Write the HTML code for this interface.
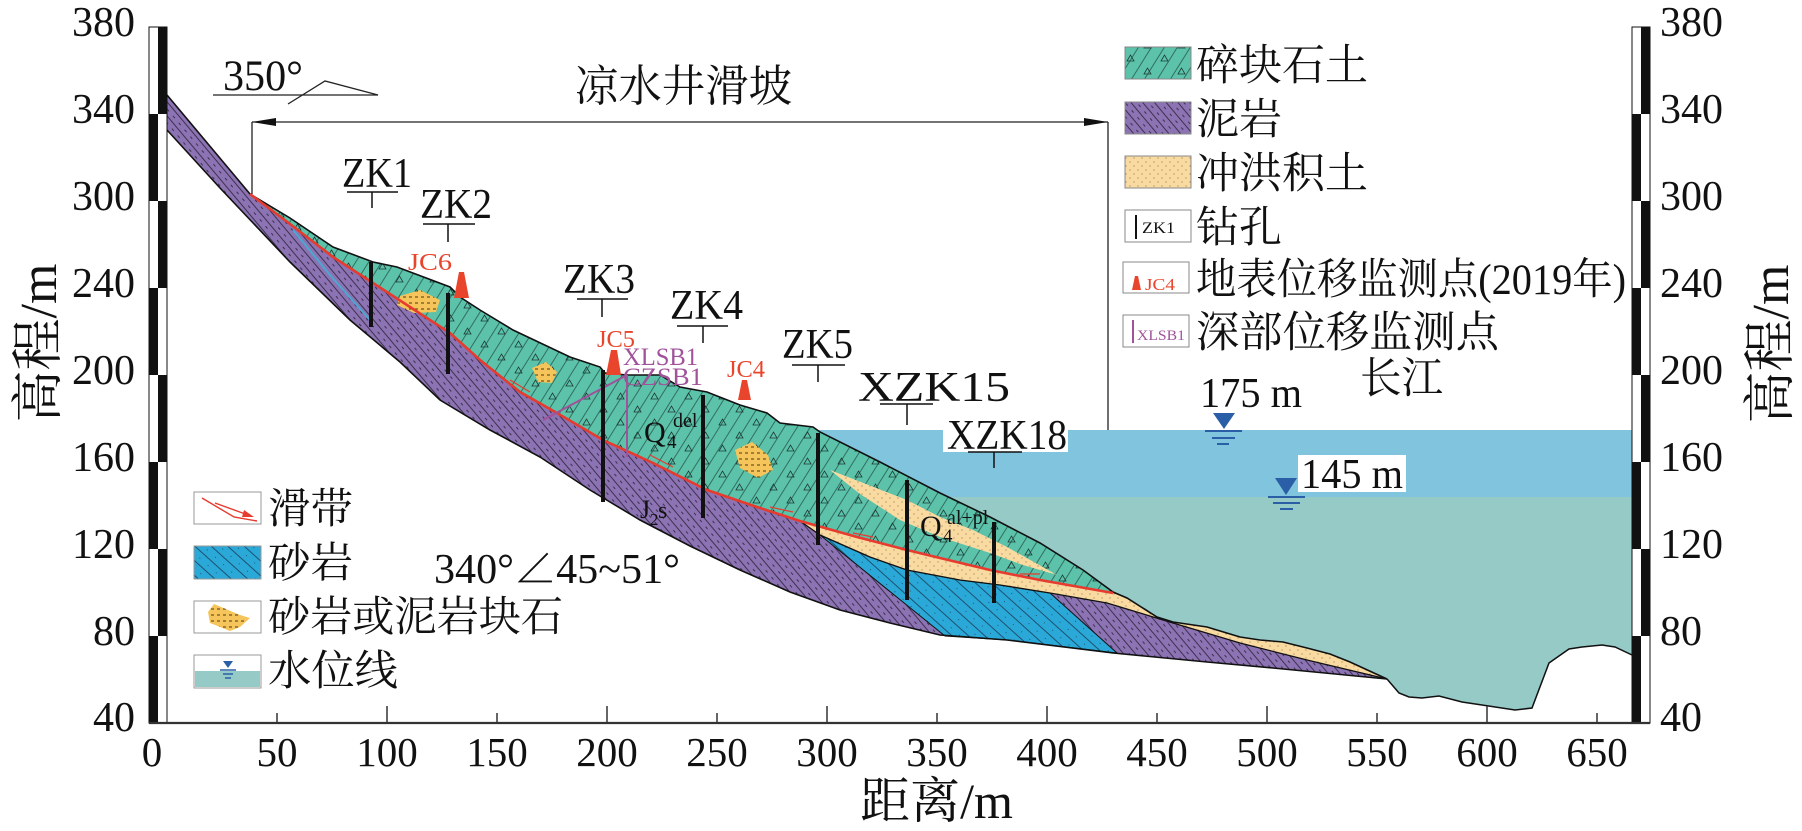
<!DOCTYPE html>
<html><head><meta charset="utf-8"><style>
html,body{margin:0;padding:0;background:#fff;}
svg{display:block;}
.n{font-family:"Liberation Serif","Noto Serif CJK SC",serif;fill:#111;}
.c{font-family:"Liberation Serif","Noto Serif CJK SC",serif;fill:#111;}
</style></head><body>
<svg width="1802" height="831" viewBox="0 0 1802 831" xmlns="http://www.w3.org/2000/svg">
<defs>
<pattern id="pp" width="9" height="9" patternUnits="userSpaceOnUse" patternTransform="rotate(50)">
<rect width="9" height="9" fill="#8c73b3"/>
<line x1="0" y1="0.5" x2="9" y2="0.5" stroke="#2a2035" stroke-width="0.8"/>
<line x1="2" y1="5" x2="5" y2="5" stroke="#2a2035" stroke-width="0.8"/>
</pattern>
<pattern id="pg" width="11" height="11" patternUnits="userSpaceOnUse" patternTransform="rotate(-58)">
<rect width="11" height="11" fill="#5cc2aa"/>
<line x1="0" y1="0.5" x2="11" y2="0.5" stroke="#1f4a40" stroke-width="0.7"/>
</pattern>
<pattern id="tri" width="34" height="26" patternUnits="userSpaceOnUse">
<path d="M5,9 l7,0 l-3.5,-6z M22,22 l7,0 l-3.5,-6z" fill="none" stroke="#1d3a33" stroke-width="0.8"/>
</pattern>
<pattern id="pb" width="11" height="11" patternUnits="userSpaceOnUse" patternTransform="rotate(42)">
<rect width="11" height="11" fill="#2aa8d8"/>
<line x1="0" y1="0.5" x2="11" y2="0.5" stroke="#1b3b55" stroke-width="0.8"/>
<circle cx="5" cy="6" r="0.5" fill="#1b3b55"/>
</pattern>
<pattern id="py" width="8" height="8" patternUnits="userSpaceOnUse">
<rect width="8" height="8" fill="#f9dba2"/>
<circle cx="2" cy="2" r="0.6" fill="#9b7b4a"/>
<circle cx="6" cy="6" r="0.6" fill="#9b7b4a"/>
</pattern>
<pattern id="pk" width="6" height="6" patternUnits="userSpaceOnUse">
<rect width="6" height="6" fill="#f5c45a"/>
<line x1="1" y1="3" x2="4" y2="3" stroke="#3a2a10" stroke-width="0.9"/>
</pattern>
</defs>

<!-- water -->
<polygon fill="#80c5dd" points="817,430 1632,430 1632,655 1615,647 1602,645 1582,647 1569,649 1549,663 1532,708 1515,710 1482,705 1462,702 1439,696 1422,698 1409,697 1399,693 1387,679 1350,662 1330,654 1307,648 1283,642 1260,640 1240,637 1207,627 1173,622 1157,617 1127,598 1113,592 1083,570 1040,543 990,517 940,493 880,462 820,432"/>
<polygon fill="#95cac7" points="948,497 1632,497 1632,655 1615,647 1602,645 1582,647 1569,649 1549,663 1532,708 1515,710 1482,705 1462,702 1439,696 1422,698 1409,697 1399,693 1387,679 1350,662 1330,654 1307,648 1283,642 1260,640 1240,637 1207,627 1173,622 1157,617 1127,598 1113,592 1083,570 1040,543 990,517"/>
<polyline fill="none" stroke="#111" stroke-width="1.5" points="1387,679 1399,693 1409,697 1422,698 1439,696 1462,702 1482,705 1515,710 1532,708 1549,663 1569,649 1582,647 1602,645 1615,647 1632,655"/>

<!-- purple mudstone -->
<polygon fill="url(#pp)" points="167,95 250,194 290,224 333,257 390,294 450,333 480,360 520,392 557,413 603,440 653,463 707,490 757,507 800,521 857,537 907,550 940,558 990,570 1040,580 1113,593 1127,598 1157,617 1173,622 1207,627 1240,637 1260,640 1283,642 1307,648 1330,654 1350,662 1387,679 1273,668 1207,662 1113,653 1007,640 940,635 890,623 840,610 790,592 740,570 690,546 640,520 590,490 540,457 490,430 440,400 400,362 350,320 290,262 220,188 167,130"/>
<polyline fill="none" stroke="#4aa8d0" stroke-width="2" points="293,230 330,275 370,320"/>
<!-- blue sandstone -->
<polygon fill="url(#pb)" stroke="#111" stroke-width="1" points="820,535 870,557 907,570 960,580 1000,585 1050,593 1117,653 1007,640 945,636"/>
<!-- yellow alluvium -->
<polygon fill="url(#py)" points="800,521 857,537 907,550 940,558 990,570 1040,580 1113,593 1127,598 1157,617 1173,622 1207,627 1240,637 1260,640 1283,642 1307,648 1330,654 1350,662 1387,679 1307,660 1240,643 1173,623 1107,603 1050,593 1000,585 960,580 907,570 870,557 820,535"/>
<polyline fill="none" stroke="#111" stroke-width="1.3" points="800,521 820,535 870,557 907,570 960,580 1000,585 1050,593 1107,603 1173,623 1240,643 1307,660 1387,679"/>
<!-- green debris -->
<polygon fill="url(#pg)" points="250,194 290,218 333,247 373,262 397,267 450,287 460,297 480,310 513,330 570,357 600,367 605,373 627,375 660,375 680,387 707,392 740,405 767,413 780,423 813,427 820,432 880,462 940,493 990,517 1040,543 1083,570 1113,592 1040,580 990,570 940,558 907,550 857,537 800,521 757,507 707,490 653,463 603,440 557,413 520,392 480,360 450,333 390,294 333,257 290,224"/>
<polygon fill="url(#tri)" points="250,194 290,218 333,247 373,262 397,267 450,287 460,297 480,310 513,330 570,357 600,367 605,373 627,375 660,375 680,387 707,392 740,405 767,413 780,423 813,427 820,432 880,462 940,493 990,517 1040,543 1083,570 1113,592 1040,580 990,570 940,558 907,550 857,537 800,521 757,507 707,490 653,463 603,440 557,413 520,392 480,360 450,333 390,294 333,257 290,224"/>
<!-- yellow lens -->
<polygon fill="url(#py)" points="830,470 907,500 940,517 973,530 1007,547 1057,575 1023,565 990,553 940,537 900,520 860,494"/>
<!-- rock blocks -->
<polygon fill="url(#pk)" points="400,296 420,290 440,300 436,312 414,313 397,305"/>
<polygon fill="url(#pk)" points="532,368 546,362 557,372 552,383 538,382"/>
<polygon fill="url(#pk)" points="735,450 752,442 768,455 773,470 758,478 740,468"/>

<!-- outlines -->
<polyline fill="none" stroke="#111" stroke-width="1.6" points="167,95 250,194 290,218 333,247 373,262 397,267 450,287 460,297 480,310 513,330 570,357 600,367 605,373 627,375 660,375 680,387 707,392 740,405 767,413 780,423 813,427 820,432 880,462 940,493 990,517 1040,543 1083,570 1113,592 1127,598 1157,617 1173,622 1207,627 1240,637 1260,640 1283,642 1307,648 1330,654 1350,662 1387,679"/>
<polyline fill="none" stroke="#111" stroke-width="1.6" points="167,130 220,188 290,262 350,320 400,362 440,400 490,430 540,457 590,490 640,520 690,546 740,570 790,592 840,610 890,623 940,635 1007,640 1113,653 1207,662 1273,668 1387,679"/>
<polyline fill="none" stroke="#e63b2e" stroke-width="2.6" points="250,194 290,224 333,257 390,294 450,333 480,360 520,392 557,413 603,440 653,463 707,490 757,507 800,521 857,537 907,550 940,558 990,570 1040,580 1113,593"/>
<g stroke="#e63b2e" stroke-width="1.2" fill="none">
<line x1="510" y1="380" x2="530" y2="392"/><line x1="650" y1="455" x2="673" y2="467"/>
<line x1="770" y1="507" x2="793" y2="512"/><line x1="853" y1="533" x2="873" y2="537"/>
<line x1="1020" y1="574" x2="1040" y2="574"/>
</g>

<!-- purple inclinometer lines -->
<g stroke="#a0529a" stroke-width="2" fill="none">
<line x1="627" y1="375" x2="543" y2="420"/>
<line x1="627" y1="375" x2="627" y2="457"/>
</g>

<!-- boreholes -->
<g stroke="#111" stroke-width="4">
<line x1="371" y1="262" x2="371" y2="327"/>
<line x1="448" y1="293" x2="448" y2="374"/>
<line x1="603" y1="370" x2="603" y2="502"/>
<line x1="703" y1="395" x2="703" y2="518"/>
<line x1="818" y1="433" x2="818" y2="545"/>
<line x1="907" y1="480" x2="907" y2="600"/>
<line x1="994" y1="522" x2="994" y2="603"/>
</g>

<!-- red markers -->
<g fill="#e8452c">
<polygon points="459,272 464,272 469,298 454,298"/>
<polygon points="611,350 617,350 621,375 606,375"/>
<polygon points="742,380 747,380 751,400 738,400"/>
</g>
<g class="n" style="fill:#e8452c" font-size="24">
<text x="408" y="270" textLength="44" lengthAdjust="spacingAndGlyphs">JC6</text>
<text x="597" y="347" textLength="38" lengthAdjust="spacingAndGlyphs">JC5</text>
<text x="727" y="377" textLength="38" lengthAdjust="spacingAndGlyphs">JC4</text>
</g>
<g class="n" style="fill:#a0529a" font-size="25">
<text x="623" y="365" textLength="75" lengthAdjust="spacingAndGlyphs">XLSB1</text>
<text x="623" y="385" textLength="80" lengthAdjust="spacingAndGlyphs">CZSB1</text>
</g>

<!-- white label boxes -->
<rect x="943" y="430" width="125" height="22" fill="#fff"/>
<rect x="1298" y="455" width="108" height="37" fill="#fff"/>

<!-- borehole labels -->
<g class="n" font-size="42">
<text x="342" y="187" textLength="70" lengthAdjust="spacingAndGlyphs">ZK1</text>
<text x="420" y="218" textLength="72" lengthAdjust="spacingAndGlyphs">ZK2</text>
<text x="563" y="293" textLength="72" lengthAdjust="spacingAndGlyphs">ZK3</text>
<text x="670" y="319" textLength="73" lengthAdjust="spacingAndGlyphs">ZK4</text>
<text x="782" y="358" textLength="71" lengthAdjust="spacingAndGlyphs">ZK5</text>
<text x="858" y="401" textLength="152" lengthAdjust="spacingAndGlyphs">XZK15</text>
<text x="947" y="449" textLength="120" lengthAdjust="spacingAndGlyphs">XZK18</text>
</g>
<g stroke="#111" stroke-width="1.5">
<line x1="347" y1="192" x2="398" y2="192"/><line x1="372" y1="192" x2="372" y2="208"/>
<line x1="423" y1="224" x2="475" y2="224"/><line x1="448" y1="224" x2="448" y2="242"/>
<line x1="577" y1="299" x2="628" y2="299"/><line x1="602" y1="299" x2="602" y2="317"/>
<line x1="677" y1="326" x2="728" y2="326"/><line x1="703" y1="326" x2="703" y2="343"/>
<line x1="792" y1="365" x2="845" y2="365"/><line x1="818" y1="365" x2="818" y2="382"/>
<line x1="880" y1="404" x2="933" y2="404"/><line x1="907" y1="404" x2="907" y2="425"/>
<line x1="968" y1="452" x2="1022" y2="452"/><line x1="994" y1="452" x2="994" y2="468"/>
</g>

<!-- geology labels -->
<g class="n">
<text x="644" y="442" font-size="30">Q</text><text x="667" y="448" font-size="19">4</text><text x="673" y="427" font-size="20">del</text>
<text x="640" y="518" font-size="26">J</text><text x="650" y="525" font-size="17">2</text><text x="658" y="518" font-size="24">s</text>
<text x="920" y="536" font-size="30">Q</text><text x="943" y="542" font-size="19">4</text><text x="947" y="524" font-size="20">al+pl</text>
<text x="434" y="583" font-size="42" textLength="246" lengthAdjust="spacingAndGlyphs">340°∠45~51°</text>
</g>

<!-- top bracket & direction -->
<text class="n" x="223" y="90" font-size="43" textLength="80" lengthAdjust="spacingAndGlyphs">350°</text>
<g stroke="#222" stroke-width="1.3" fill="none">
<line x1="213" y1="95" x2="378" y2="95"/>
<polyline points="288,104 325,81 378,95"/>
<line x1="252" y1="122" x2="1108" y2="122"/>
<line x1="252" y1="122" x2="252" y2="194"/>
<line x1="1108" y1="122" x2="1108" y2="430"/>
</g>
<polygon fill="#111" points="252,122 276,118 276,126"/>
<polygon fill="#111" points="1108,122 1084,118 1084,126"/>
<text class="c" x="575" y="101" font-size="44" textLength="217" lengthAdjust="spacingAndGlyphs">凉水井滑坡</text>

<!-- water symbols -->
<g fill="#2a5fa8" stroke="#2a5fa8">
<polygon stroke="none" points="1213,413 1235,413 1224,429"/>
<line x1="1205" y1="431" x2="1242" y2="431" stroke-width="2"/>
<line x1="1212" y1="438" x2="1235" y2="438" stroke-width="2"/>
<line x1="1217" y1="444" x2="1229" y2="444" stroke-width="2"/>
<polygon stroke="none" points="1275,478 1297,478 1286,495"/>
<line x1="1268" y1="497" x2="1305" y2="497" stroke-width="2"/>
<line x1="1273" y1="503" x2="1300" y2="503" stroke-width="2"/>
<line x1="1280" y1="509" x2="1293" y2="509" stroke-width="2"/>
</g>
<text class="n" x="1200" y="407" font-size="42" textLength="102" lengthAdjust="spacingAndGlyphs">175 m</text>
<text class="n" x="1301" y="488" font-size="42" textLength="102" lengthAdjust="spacingAndGlyphs">145 m</text>
<text class="c" x="1360" y="393" font-size="43" textLength="83" lengthAdjust="spacingAndGlyphs">长江</text>

<!-- right legend -->
<g stroke="#888" stroke-width="1">
<rect x="1125" y="47" width="66" height="32" fill="url(#pg)"/>
<rect x="1125" y="47" width="66" height="32" fill="url(#tri)"/>
<rect x="1125" y="102" width="66" height="32" fill="url(#pp)"/>
<rect x="1125" y="156" width="66" height="32" fill="url(#py)"/>
<rect x="1125" y="210" width="66" height="32" fill="#fff"/>
<rect x="1123" y="262" width="66" height="31" fill="#fff"/>
<rect x="1123" y="315" width="66" height="32" fill="#fff"/>
</g>
<line x1="1136" y1="215" x2="1136" y2="239" stroke="#111" stroke-width="2"/>
<text class="n" x="1142" y="233" font-size="16" textLength="33" lengthAdjust="spacingAndGlyphs">ZK1</text>
<polygon fill="#e8452c" points="1135,276 1138,276 1141,290 1132,290"/>
<text class="n" style="fill:#e8452c" x="1145" y="290" font-size="17" textLength="30" lengthAdjust="spacingAndGlyphs">JC4</text>
<line x1="1133" y1="320" x2="1133" y2="343" stroke="#a0529a" stroke-width="2"/>
<text class="n" style="fill:#a0529a" x="1137" y="340" font-size="15" textLength="48" lengthAdjust="spacingAndGlyphs">XLSB1</text>
<g class="c" font-size="43">
<text x="1196" y="80" textLength="172" lengthAdjust="spacingAndGlyphs">碎块石土</text>
<text x="1196" y="134" textLength="86" lengthAdjust="spacingAndGlyphs">泥岩</text>
<text x="1196" y="188" textLength="172" lengthAdjust="spacingAndGlyphs">冲洪积土</text>
<text x="1196" y="242" textLength="86" lengthAdjust="spacingAndGlyphs">钻孔</text>
<text x="1196" y="294" textLength="430" lengthAdjust="spacingAndGlyphs">地表位移监测点(2019年)</text>
<text x="1196" y="347" textLength="303" lengthAdjust="spacingAndGlyphs">深部位移监测点</text>
</g>

<!-- left legend -->
<g stroke="#999" stroke-width="1">
<rect x="194" y="492" width="67" height="32" fill="#fff"/>
<rect x="194" y="546" width="67" height="33" fill="url(#pb)"/>
<rect x="194" y="601" width="67" height="32" fill="#fff"/>
<rect x="194" y="655" width="67" height="33" fill="#fff"/>
</g>
<polyline fill="none" stroke="#e63b2e" stroke-width="1.4" points="202,498 234,517 257,521"/>
<line x1="215" y1="503" x2="248" y2="515" stroke="#e63b2e" stroke-width="1.4"/>
<polygon fill="#e63b2e" points="254,517 244,510 242,517"/>
<polygon fill="url(#pk)" points="214,604 240,615 250,618 240,627 230,631 210,623 208,612"/>
<rect x="195" y="671" width="65" height="16" fill="#95cac7"/>
<g fill="#2a5fa8" stroke="#2a5fa8">
<polygon stroke="none" points="223,661 233,661 228,668"/>
<line x1="220" y1="670" x2="236" y2="670" stroke-width="1.5"/>
<line x1="223" y1="674" x2="233" y2="674" stroke-width="1.5"/>
<line x1="225" y1="678" x2="231" y2="678" stroke-width="1.5"/>
</g>
<g class="c" font-size="42">
<text x="268" y="523" textLength="85" lengthAdjust="spacingAndGlyphs">滑带</text>
<text x="268" y="577" textLength="85" lengthAdjust="spacingAndGlyphs">砂岩</text>
<text x="268" y="631" textLength="295" lengthAdjust="spacingAndGlyphs">砂岩或泥岩块石</text>
<text x="268" y="685" textLength="130" lengthAdjust="spacingAndGlyphs">水位线</text>
</g>

<!-- scale bars -->
<g fill="#111">
<rect x="158" y="27" width="9" height="87"/>
<rect x="149" y="114" width="9" height="87"/>
<rect x="158" y="201" width="9" height="87"/>
<rect x="149" y="288" width="9" height="87"/>
<rect x="158" y="375" width="9" height="87"/>
<rect x="149" y="462" width="9" height="87"/>
<rect x="158" y="549" width="9" height="87"/>
<rect x="149" y="636" width="9" height="87"/>
<rect x="1641" y="27" width="9" height="87"/>
<rect x="1632" y="114" width="9" height="87"/>
<rect x="1641" y="201" width="9" height="87"/>
<rect x="1632" y="288" width="9" height="87"/>
<rect x="1641" y="375" width="9" height="87"/>
<rect x="1632" y="462" width="9" height="87"/>
<rect x="1641" y="549" width="9" height="87"/>
<rect x="1632" y="636" width="9" height="87"/>
</g>
<rect x="149" y="27" width="18" height="696" fill="none" stroke="#111" stroke-width="1"/>
<rect x="1632" y="27" width="18" height="696" fill="none" stroke="#111" stroke-width="1"/>

<!-- x axis -->
<line x1="149" y1="723" x2="1650" y2="723" stroke="#333" stroke-width="2.2"/>
<g stroke="#333" stroke-width="1.5">
<line x1="277" y1="723" x2="277" y2="713"/><line x1="387" y1="723" x2="387" y2="706"/>
<line x1="497" y1="723" x2="497" y2="713"/><line x1="607" y1="723" x2="607" y2="706"/>
<line x1="717" y1="723" x2="717" y2="713"/><line x1="827" y1="723" x2="827" y2="706"/>
<line x1="937" y1="723" x2="937" y2="713"/><line x1="1047" y1="723" x2="1047" y2="706"/>
<line x1="1157" y1="723" x2="1157" y2="713"/><line x1="1267" y1="723" x2="1267" y2="706"/>
<line x1="1377" y1="723" x2="1377" y2="713"/><line x1="1487" y1="723" x2="1487" y2="706"/>
<line x1="1597" y1="723" x2="1597" y2="713"/>
</g>
<g class="n" font-size="41" text-anchor="middle">
<text x="152" y="766">0</text><text x="277" y="766">50</text><text x="387" y="766">100</text>
<text x="497" y="766">150</text><text x="607" y="766">200</text><text x="717" y="766">250</text>
<text x="827" y="766">300</text><text x="937" y="766">350</text><text x="1047" y="766">400</text>
<text x="1157" y="766">450</text><text x="1267" y="766">500</text><text x="1377" y="766">550</text>
<text x="1487" y="766">600</text><text x="1597" y="766">650</text>
</g>
<text class="c" x="860" y="818" font-size="50" textLength="153" lengthAdjust="spacingAndGlyphs">距离/m</text>

<!-- y labels -->
<g class="n" font-size="42" text-anchor="end">
<text x="135" y="36">380</text><text x="135" y="123">340</text><text x="135" y="210">300</text>
<text x="135" y="297">240</text><text x="135" y="384">200</text><text x="135" y="471">160</text>
<text x="135" y="558">120</text><text x="135" y="645">80</text><text x="135" y="731">40</text>
</g>
<g class="n" font-size="42">
<text x="1660" y="36">380</text><text x="1660" y="123">340</text><text x="1660" y="210">300</text>
<text x="1660" y="297">240</text><text x="1660" y="384">200</text><text x="1660" y="471">160</text>
<text x="1660" y="558">120</text><text x="1660" y="645">80</text><text x="1660" y="731">40</text>
</g>
<text class="c" font-size="52" text-anchor="middle" transform="translate(56,343) rotate(-90)">高程/m</text>
<text class="c" font-size="52" text-anchor="middle" transform="translate(1788,344) rotate(-90)">高程/m</text>
</svg>
</body></html>
